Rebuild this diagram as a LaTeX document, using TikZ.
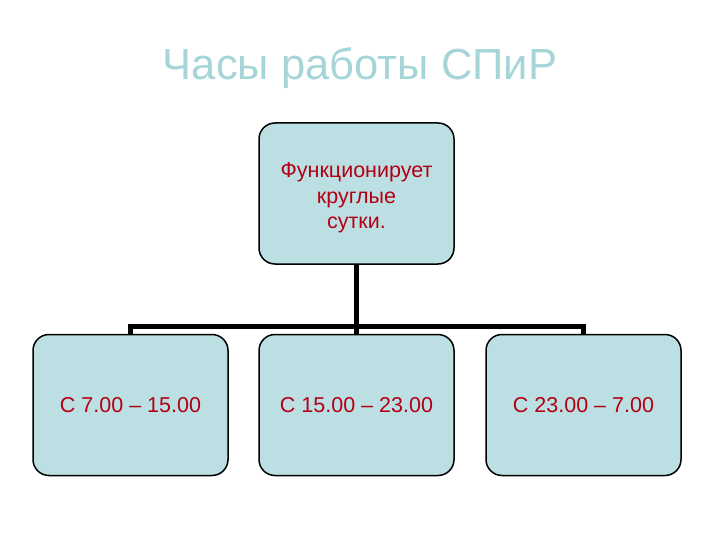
\documentclass[tikz,border=0pt]{standalone}
\usepackage{fontspec}
\setmainfont{Liberation Sans}
\usetikzlibrary{backgrounds}
\definecolor{boxfill}{RGB}{187,223,227}
\definecolor{txtred}{RGB}{180,0,20}
\definecolor{titlecol}{RGB}{166,213,216}
\begin{document}
\begin{tikzpicture}[x=1pt,y=1pt,
  box/.style={draw=black,line width=1.5pt,fill=boxfill,rounded corners=16pt,
    minimum width=195pt,minimum height=141pt,inner sep=0pt,text=txtred,
    font=\fontsize{21.5}{25.5}\selectfont,align=center},
  conn/.style={draw=black,line width=5pt,line cap=rect,line join=miter}]
\useasboundingbox (0,0) rectangle (720,-540);
\node[text=titlecol,font=\fontsize{43.5}{43.5}\selectfont] (title) at (360,-68.5) {Часы работы СПиР};
\node[box] (top) at (356.5,-193.5) {\rule{0pt}{24pt}Функционирует\\круглые\\сутки.};
\node[box] (b1) at (130.5,-405) {С 7.00 – 15.00};
\node[box] (b2) at (356.5,-405) {С 15.00 – 23.00};
\node[box] (b3) at (583.5,-405) {С 23.00 – 7.00};
\coordinate (bar) at (356.5,-326);
\begin{scope}[on background layer]
\draw[conn] (top.south) -- (b2.north);
\draw[conn] (b1.north) -- (b1.north |- bar) -- (b3.north |- bar) -- (b3.north);
\end{scope}
\end{tikzpicture}
\end{document}
